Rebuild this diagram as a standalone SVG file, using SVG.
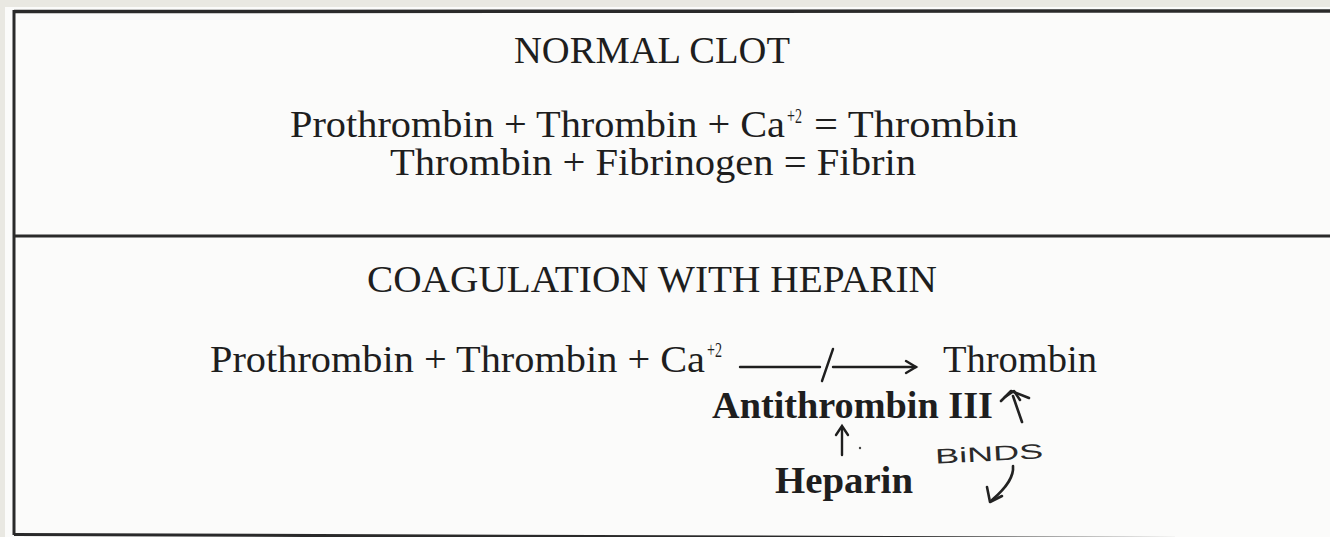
<svg xmlns="http://www.w3.org/2000/svg" width="1330" height="537" viewBox="0 0 1330 537">
<style>
.t{font-family:"Liberation Serif","Times New Roman",serif;font-size:38px;fill:#1e1e1e}
.b{font-weight:bold}
.sup{font-family:"Liberation Serif","Times New Roman",serif;font-size:21px;fill:#1e1e1e}
.hand{font-family:"Liberation Sans",Arial,sans-serif;font-size:21px;fill:#2a2a2a}
.rule{stroke:#2a2a2a;fill:none}
.ln{stroke:#1e1e1e;stroke-width:2.4;fill:none;stroke-linecap:round}
.pen{stroke:#222;stroke-width:2.6;fill:none;stroke-linecap:round;stroke-linejoin:round}
</style>
<rect x="0" y="0" width="1330" height="537" fill="#e9e8e2"/>
<rect x="5" y="7" width="1325" height="530" fill="#fbfbfa"/>
<g id="frame">
<line class="rule" x1="14" y1="11.5" x2="1330" y2="11" stroke-width="3.5"/>
<line class="rule" x1="14" y1="10" x2="14" y2="535" stroke-width="3"/>
<line class="rule" x1="14" y1="236" x2="1330" y2="236" stroke-width="3"/>
<line class="rule" x1="14" y1="534.5" x2="1330" y2="539" stroke-width="3"/>
</g>
<g id="normal-clot">
<text class="t" x="514" y="63" textLength="276" lengthAdjust="spacingAndGlyphs">NORMAL CLOT</text>
<text class="t" x="290" y="137" textLength="495" lengthAdjust="spacingAndGlyphs">Prothrombin + Thrombin + Ca</text>
<text class="sup" x="787" y="123" textLength="15" lengthAdjust="spacingAndGlyphs">+2</text>
<text class="t" x="814" y="137" textLength="204" lengthAdjust="spacingAndGlyphs">= Thrombin</text>
<text class="t" x="390" y="175" textLength="526" lengthAdjust="spacingAndGlyphs">Thrombin + Fibrinogen = Fibrin</text>
</g>
<g id="coagulation-heparin">
<text class="t" x="367" y="292" textLength="570" lengthAdjust="spacingAndGlyphs">COAGULATION WITH HEPARIN</text>
</g>
<g id="reactants">
<text class="t" x="210" y="372" textLength="495" lengthAdjust="spacingAndGlyphs">Prothrombin + Thrombin + Ca</text>
<text class="sup" x="707" y="357" textLength="15" lengthAdjust="spacingAndGlyphs">+2</text>
</g>
<g id="thrombin">
<text class="t" x="943" y="372" textLength="154" lengthAdjust="spacingAndGlyphs">Thrombin</text>
</g>
<g id="antithrombin">
<text class="t b" x="712" y="418" textLength="281" lengthAdjust="spacingAndGlyphs">Antithrombin III</text>
</g>
<g id="heparin">
<text class="t b" x="775" y="493" textLength="138" lengthAdjust="spacingAndGlyphs">Heparin</text>
</g>
<g id="binds-note">
<text class="hand" x="935" y="461" textLength="108" lengthAdjust="spacingAndGlyphs" transform="rotate(-3 990 452)">BiNDS</text>
<path class="pen" d="M1022,422 L1013,396"/>
<path class="pen" d="M1001,401 L1011,391 L1029,398"/>
<path class="pen" d="M1005,397 L1014,391 L1020,400" stroke-width="3.5"/>
<path class="pen" d="M1013,466 C1014,476 1008,486 992,500"/>
<path class="pen" d="M987,487 L990,502 L1002,496"/>
</g>
<g id="connectors">
<line class="ln" x1="740" y1="367" x2="820" y2="367"/>
<line class="ln" x1="833" y1="349" x2="822" y2="381"/>
<line class="ln" x1="833" y1="367" x2="916" y2="367"/>
<path class="ln" d="M906,361 L916,367 L906,373"/>
<line class="ln" x1="842" y1="455" x2="842" y2="427" stroke-width="1.8"/>
<path class="ln" d="M836,435 L842,426 L848,435" stroke-width="1.8"/>
<circle cx="860" cy="448" r="1.2" fill="#444"/>
</g>
</svg>
